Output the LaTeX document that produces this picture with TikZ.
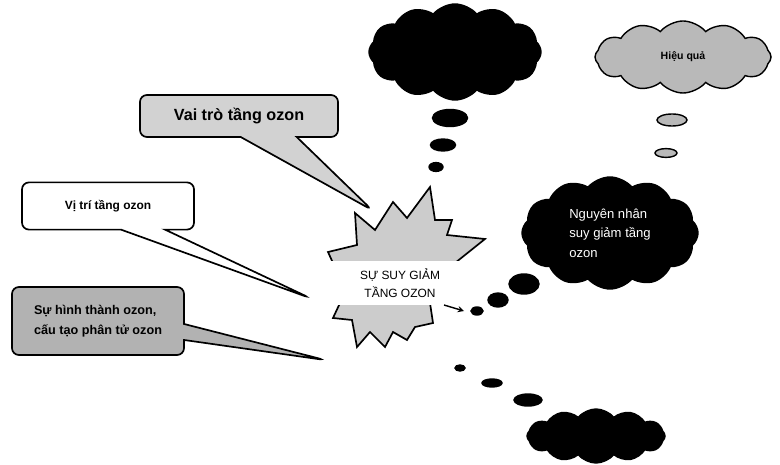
\documentclass[tikz,border=0pt]{standalone}
\usepackage{fontspec}
\setmainfont{Liberation Sans}
\usetikzlibrary{shapes,shapes.callouts,arrows,positioning,calc}

\begin{document}
\begin{tikzpicture}[x=0.025cm, y=-0.025cm, every node/.style={align=center}]
        % 定义节点样式
        \tikzstyle{callbox} = [rectangle callout, rounded corners=5pt, draw=black, line width=1.2pt, inner sep=0pt]
        \tikzstyle{bigcloud} = [cloud, cloud puffs=12, cloud puff arc=100, cloud ignores aspect, draw=black, line width=1pt, inner sep=0pt]
        \tikzstyle{bubble} = [ellipse, draw=black, line width=1pt, inner sep=0pt]
        \tikzstyle{burstpart} = [draw=black, line width=1.2pt, fill=gray!40, line join=miter]
        \tikzstyle{arrow} = [line width=1pt,->,>=stealth]

        \useasboundingbox (0,0) rectangle (780,465);

        % 爆炸形状
        \path[burstpart] (333,263) -- (328,252) -- (357,245) -- (355,213) -- (375,230) -- (393,202) -- (407,218) -- (430,187) -- (435,220) -- (452,220) -- (447,235) -- (485,239) -- (455,263) -- cycle;
        \path[burstpart] (340,303) -- (333,318) -- (352,320) -- (357,347) -- (370,332) -- (385,347) -- (393,332) -- (407,340) -- (415,327) -- (433,323) -- (430,303) -- cycle;

        % 创建节点
        \node (burst) [fill=white, minimum width=4cm, minimum height=1.08cm, inner sep=0pt, font=\fontsize{8.5}{12.5}\selectfont] at (400,283) {SỰ SUY GIẢM\\TẦNG OZON};

        \coordinate (tipvaitro) at (372,210);
        \coordinate (tipvitri) at (310,298);
        \coordinate (tiphinhthanh) at (325,360);
        \node (vaitro) [callbox, fill=gray!35, minimum width=4.95cm, minimum height=1.05cm, callout absolute pointer={(tipvaitro)}, callout pointer width=1.4cm, font=\bfseries\fontsize{11.5}{13}\selectfont] at (239,116) {Vai trò tầng ozon};
        \node (vitri) [callbox, fill=white, minimum width=4.3cm, minimum height=1.18cm, callout absolute pointer={(tipvitri)}, callout pointer width=1.1cm, font=\bfseries\fontsize{8.5}{10}\selectfont] at (108,206) {Vị trí tầng ozon};
        \node (hinhthanh) [callbox, fill=gray!60, align=left, minimum width=4.3cm, minimum height=1.7cm, callout absolute pointer={(tiphinhthanh)}, callout pointer width=0.4cm, font=\bfseries\fontsize{9}{14}\selectfont] at (98,321) {Sự hình thành ozon,\\cấu tạo phân tử ozon};

        \node (cloudtop) [bigcloud, fill=black, minimum width=4.3cm, minimum height=2.4cm] at (455,52) {};
        \node (top1) [bubble, fill=black, minimum width=0.875cm, minimum height=0.425cm] at (450,118) {};
        \node (top2) [bubble, fill=black, minimum width=0.625cm, minimum height=0.3cm] at (443,145) {};
        \node (top3) [bubble, fill=black, minimum width=0.35cm, minimum height=0.22cm] at (436,167) {};

        \node (hieuqua) [bigcloud, fill=gray!55, minimum width=4.4cm, minimum height=1.8cm, font=\bfseries\fontsize{7.5}{9}\selectfont] at (683,57) {Hiệu quả};
        \node (hq1) [bubble, fill=gray!55, minimum width=0.75cm, minimum height=0.3cm] at (672,120) {};
        \node (hq2) [bubble, fill=gray!55, minimum width=0.55cm, minimum height=0.22cm] at (666,153) {};

        \node (nguyennhan) [bigcloud, fill=black, text=white, align=left, minimum width=4.4cm, minimum height=2.8cm, font=\fontsize{9.3}{14}\selectfont] at (610,233) {Nguyên nhân\\suy giảm tầng\\ozon};
        \node (nn1) [bubble, fill=black, minimum width=0.75cm, minimum height=0.5cm] at (524,284) {};
        \node (nn2) [bubble, fill=black, minimum width=0.5cm, minimum height=0.35cm] at (498,300) {};
        \node (nn3) [bubble, fill=black, minimum width=0.3cm, minimum height=0.2cm] at (477,311) {};

        \node (cloudbottom) [bigcloud, fill=black, minimum width=3.45cm, minimum height=1.35cm] at (596,436) {};
        \node (bt1) [bubble, fill=black, minimum width=0.7cm, minimum height=0.3cm] at (528,400) {};
        \node (bt2) [bubble, fill=black, minimum width=0.5cm, minimum height=0.2cm] at (492,383) {};
        \node (bt3) [bubble, fill=black, minimum width=0.25cm, minimum height=0.15cm] at (460,368) {};

        % 连接节点
        \coordinate (arrstart) at (444,305);
        \coordinate (arrend) at (464,311);
        \draw [arrow] (arrstart) -- (arrend);
\end{tikzpicture}
\end{document}
